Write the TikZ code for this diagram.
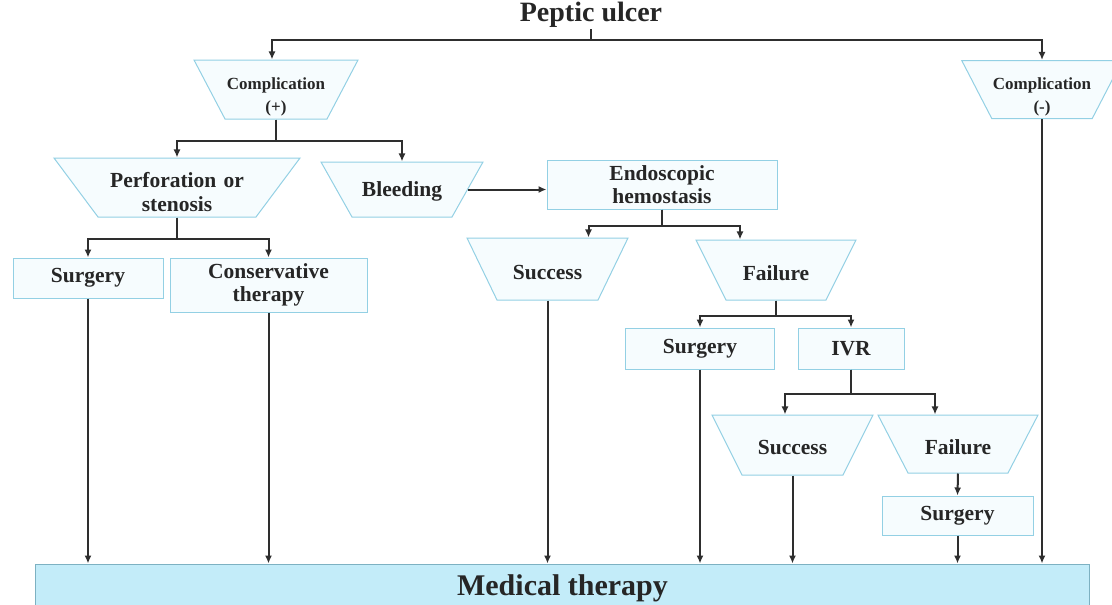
\documentclass[tikz,border=0pt]{standalone}
\usepackage{fontspec}
\setmainfont{Liberation Serif}
\usetikzlibrary{shapes.geometric,arrows.meta}
\definecolor{boxline}{HTML}{93D0E4}
\definecolor{boxfill}{HTML}{F6FCFE}
\definecolor{barfill}{HTML}{C3ECF9}
\definecolor{linegray}{HTML}{2E2E2E}
\newcommand{\twolines}[2]{\raisebox{0pt}[0pt][0pt]{\begin{tabular}[t]{@{}c@{}}#1\\#2\end{tabular}}}
\begin{document}
\begin{tikzpicture}[x=1pt, y=-1pt,
    txt/.style={font=\bfseries\fontsize{21.5}{23.5}\selectfont, text=black!85, align=center},
    trap/.style n args={4}{txt, trapezium, shape border rotate=180, inner sep=1pt,
      trapezium angle=#1, text width=#2pt, text height=#3pt, text depth=#4pt,
      draw=boxline, fill=boxfill, line width=1pt},
    box/.style={txt, rectangle, draw=boxline, fill=boxfill, line width=1pt, inner sep=1pt},
    small/.style={font=\bfseries\fontsize{17}{23}\selectfont},
    >={Latex[length=8pt,width=7pt]}]
      \useasboundingbox (0,0) rectangle (1112,605);
      \node[txt, font=\bfseries\fontsize{28}{30}\selectfont, anchor=base, inner sep=2pt] (PU) at (591,21) {Peptic ulcer};
      \node[trap={62.29}{100}{28.5}{28.5}, small] (Cp) at (276,89.5) {\twolines{Complication}{(+)}};
      \node[trap={62.65}{98.5}{28}{28}, small] (Cm) at (1042,89.5) {\twolines{Complication}{(-)}};
      \node[trap={53.28}{156}{28.5}{28.5}] (PS) at (177,187.5) {\twolines{Perforation or}{stenosis}};
      \node[trap={60.6}{98}{33}{20}] (Bl) at (402,189.5) {Bleeding};
      \node[box, minimum width=230pt, minimum height=49pt] (EH) at (662,184.5) {Endoscopic\\hemostasis};
      \node[box, minimum width=150pt, minimum height=40pt] (S1) at (88,278) {Surgery};
      \node[box, minimum width=197pt, minimum height=54pt] (CT) at (268.5,285) {Conservative\\therapy};
      \node[trap={64.18}{99}{40}{20}] (Su1) at (547.5,269) {Success};
      \node[trap={63.43}{98}{39}{19}] (Fa1) at (776,270) {Failure};
      \node[box, minimum width=149pt, minimum height=41pt] (S2) at (700,348.5) {Surgery};
      \node[box, minimum width=106pt, minimum height=41pt] (IVR) at (851,348.5) {IVR};
      \node[trap={63.43}{99}{38}{20}] (Su2) at (792.5,445) {Success};
      \node[trap={62.65}{98}{38}{18}] (Fa2) at (958,444) {Failure};
      \node[box, minimum width=151pt, minimum height=39pt] (S3) at (957.5,515.5) {Surgery};
      \node[txt, font=\bfseries\fontsize{30}{32}\selectfont, draw=boxline!85!black, fill=barfill, line width=1pt,
        minimum width=1054pt, minimum height=48pt] (MT) at (562.5,588) {Medical therapy};
      \begin{scope}[draw=linegray, line width=2pt]
      \draw[->] (PU.south) -- ++(0,11) -| ([xshift=-4pt]Cp.north);
      \draw[->] (PU.south) -- ++(0,11) -| (Cm.north);
      \draw[->] (Cp.south) -- ++(0,21) -| (PS.north);
      \draw[->] (Cp.south) -- ++(0,21) -| (Bl.north);
      \draw[->] (PS.south) -- ++(0,21) -| (S1.north);
      \draw[->] (PS.south) -- ++(0,21) -| (CT.north);
      \draw[->] (Bl.east) -- (Bl.east -| EH.west);
      \draw[->] (EH.south) -- ++(0,16) -| ([xshift=41pt]Su1.north);
      \draw[->] (EH.south) -- ++(0,16) -| ([xshift=-36pt]Fa1.north);
      \draw[->] (Fa1.south) -- ++(0,15) -| (S2.north);
      \draw[->] (Fa1.south) -- ++(0,15) -| (IVR.north);
      \draw[->] (IVR.south) -- ++(0,24) -| ([xshift=-7.5pt]Su2.north);
      \draw[->] (IVR.south) -- ++(0,24) -| ([xshift=-23pt]Fa2.north);
      \draw[->] (Fa2.south) -- (S3.north);
      \foreach \n in {S1,CT,Su1,S2,Su2,S3,Cm}
        \draw[->] (\n.south) -- (\n.south |- MT.north);
      \end{scope}
    \end{tikzpicture}
\end{document}
